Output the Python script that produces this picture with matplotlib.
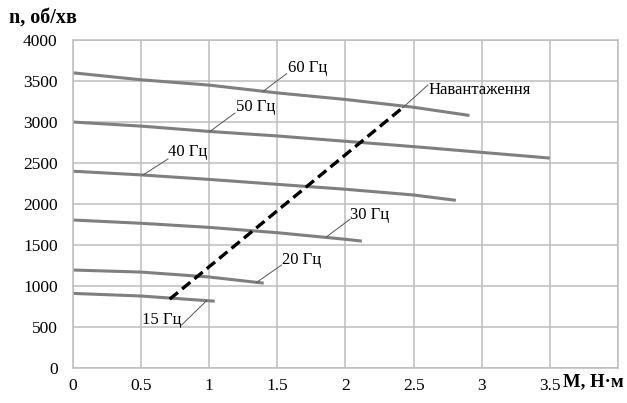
import matplotlib
matplotlib.use("Agg")
import matplotlib.pyplot as plt

plt.rcParams['font.family'] = ['Liberation Serif', 'DejaVu Serif']

# Mechanical characteristics n(M) for each supply frequency
m_60 = [0, 0.5, 1.0, 1.5, 2.0, 2.5, 2.91]
n_60 = [3600, 3515, 3450, 3355, 3275, 3180, 3080]

m_50 = [0, 0.5, 1.0, 1.5, 2.0, 2.5, 3.0, 3.5]
n_50 = [3000, 2950, 2885, 2830, 2765, 2700, 2630, 2560]

m_40 = [0, 0.5, 1.0, 1.5, 2.0, 2.5, 2.81]
n_40 = [2400, 2355, 2300, 2240, 2180, 2110, 2045]

m_30 = [0, 0.5, 1.0, 1.5, 2.0, 2.12]
n_30 = [1805, 1765, 1715, 1650, 1570, 1548]

m_20 = [0, 0.5, 1.0, 1.40]
n_20 = [1195, 1170, 1110, 1035]

m_15 = [0, 0.5, 1.04]
n_15 = [910, 878, 815]

# Load characteristic
m_load = [0.71, 2.42]
n_load = [840, 3175]

curve_labels = ["60 Гц", "50 Гц", "40 Гц", "30 Гц", "20 Гц", "15 Гц"]
load_label = "Навантаження"

x_ticks = [0, 0.5, 1, 1.5, 2, 2.5, 3, 3.5]
y_ticks = [0, 500, 1000, 1500, 2000, 2500, 3000, 3500, 4000]

fig = plt.figure(figsize=(6.27, 4.03), dpi=100)
ax = fig.add_axes([0.1164, 0.0868, 0.8692, 0.8139])

ax.set_xlim(0, 4)
ax.set_ylim(0, 4000)
ax.set_xticks([0, 0.5, 1, 1.5, 2, 2.5, 3, 3.5, 4])
ax.set_xticklabels([f"{v:g}" for v in x_ticks] + [""])
ax.set_yticks(y_ticks)
ax.set_yticklabels([str(v) for v in y_ticks])
ax.grid(True, color="#bdbdbd", linewidth=1.1)
ax.set_axisbelow(True)
for s in ax.spines.values():
    s.set_color("#bdbdbd")
    s.set_linewidth(1.1)
ax.tick_params(length=0, labelsize=12.5)
ax.tick_params(axis="x", pad=7)
ax.tick_params(axis="y", pad=11)

curve_kw = dict(color="#7f7f7f", linewidth=2.2, solid_capstyle="butt")
curves = [(m_60, n_60), (m_50, n_50), (m_40, n_40),
          (m_30, n_30), (m_20, n_20), (m_15, n_15)]
for m, n in curves:
    ax.plot(m, n, **curve_kw)

ax.plot(m_load, n_load, color="black", linewidth=2.4,
        linestyle=(0, (3.2, 1.6)))

# Curve labels with leader lines: (point on curve, leader end, text anchor, alignment)
lead_kw = dict(color="#555555", linewidth=0.7)
label_specs = [
    ((1.396, 3375), (1.568, 3590), (1.575, 3655), "left"),
    ((1.005, 2885), (1.189, 3110), (1.20, 3180), "left"),
    ((0.514, 2354), (0.697, 2549), (0.70, 2630), "left"),
    ((1.861, 1600), (2.032, 1813), (2.035, 1866), "left"),
    ((1.348, 1045), (1.531, 1256), (1.535, 1317), "left"),
    ((0.981, 822), (0.797, 524), (0.80, 585), "right"),
]
for (p0, p1, t, ha), lbl in zip(label_specs, curve_labels):
    ax.plot([p0[0], p1[0]], [p0[1], p1[1]], **lead_kw)
    ax.text(t[0], t[1], lbl, fontsize=12, ha=ha, va="center")

ax.plot([2.42, 2.605], [3174, 3451], **lead_kw)
ax.text(2.61, 3390, load_label, fontsize=12, ha="left", va="center")

fig.text(9 / 627, 1 - 18 / 403, "n, об/хв", fontsize=14.5, fontweight="bold",
         ha="left", va="center")
fig.text(563 / 627, 1 - 382 / 403, "M, Н·м", fontsize=13.5, fontweight="bold",
         ha="left", va="center")

fig.savefig("out.png", dpi=100)
